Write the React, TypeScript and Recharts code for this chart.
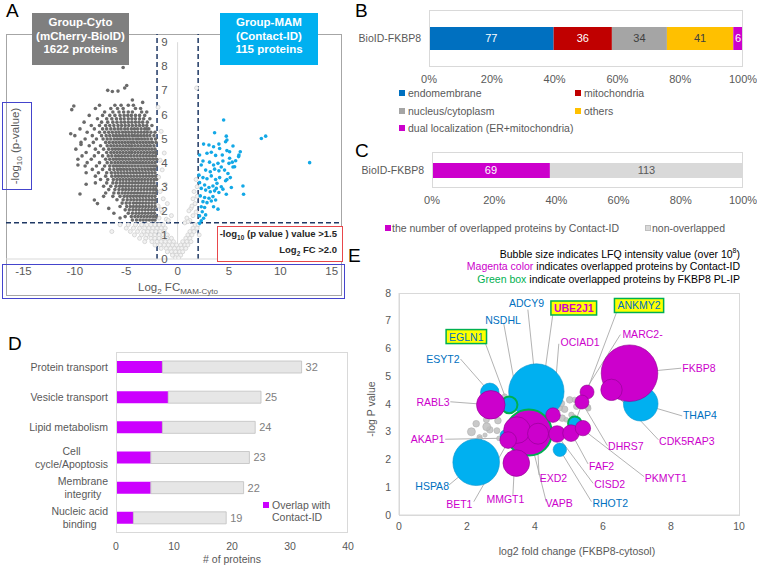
import React from "react";
import {
  ScatterChart,
  Scatter,
  XAxis,
  YAxis,
  ZAxis,
  ReferenceLine,
  ReferenceDot,
  BarChart,
  Bar,
  LabelList,
} from "recharts";

const FONT = "'Liberation Sans', Arial, Helvetica, sans-serif";
const TXT = "#595959";
const MAG = "#CC00CC";
const BLUE_TXT = "#0070C0";

// ---------- A: volcano plot ----------
const xTicksA = [-15, -10, -5, 0, 5, 10, 15];
const yTicksA = [0, 1, 2, 3, 4, 5, 6, 7, 8, 9];

// Group-Cyto cloud, read row by row (y, x values)
const cytoRows: [number, number[]][] = [
  [6.38, [-7.6, -6.1, -5.5, -4.8, -4.3]],
  [6.25, [-8.0, -6.5, -5.85, -5.3, -4.1, -3.6]],
  [6.1, [-7.1, -6.3, -5.7, -5.25, -4.8, -4.4, -3.5, -3.0]],
  [5.96, [-8.6, -7.3, -6.6, -6.1, -5.6, -5.2, -4.85, -4.5, -4.1, -3.7, -3.2]],
  [5.82, [-7.8, -6.9, -6.4, -5.95, -5.55, -5.2, -4.8, -4.45, -4.1, -3.7, -3.3, -2.7]],
  [5.68, [-9.1, -7.4, -6.8, -6.3, -5.9, -5.5, -5.15, -4.8, -4.45, -4.1, -3.75, -3.4, -2.95]],
  [5.54, [-8.4, -7.6, -7.0, -6.6, -6.2, -5.8, -5.45, -5.1, -4.75, -4.4, -4.05, -3.7, -3.35, -3.0, -2.5]],
  [5.4, [-9.5, -8.1, -7.3, -6.9, -6.5, -6.15, -5.8, -5.5, -5.15, -4.85, -4.5, -4.2, -3.9, -3.55, -3.2, -2.8]],
  [5.26, [-8.8, -7.6, -7.1, -6.7, -6.35, -6.0, -5.7, -5.35, -5.05, -4.75, -4.45, -4.15, -3.85, -3.55, -3.25, -2.95, -2.6, -2.2]],
  [5.12, [-10.0, -8.3, -7.4, -6.95, -6.6, -6.25, -5.95, -5.65, -5.35, -5.05, -4.75, -4.45, -4.2, -3.9, -3.6, -3.3, -3.0, -2.7, -2.3]],
  [4.98, [-9.0, -7.9, -7.25, -6.85, -6.5, -6.15, -5.85, -5.55, -5.25, -4.95, -4.65, -4.35, -4.05, -3.8, -3.5, -3.2, -2.9, -2.55, -2.15]],
  [4.84, [-9.4, -8.2, -7.0, -6.65, -6.3, -6.0, -5.7, -5.4, -5.1, -4.8, -4.5, -4.25, -3.95, -3.65, -3.35, -3.05, -2.75, -2.45, -2.1]],
  [4.7, [-8.6, -7.5, -6.85, -6.5, -6.2, -5.9, -5.6, -5.3, -5.0, -4.7, -4.45, -4.15, -3.85, -3.55, -3.25, -2.95, -2.65, -2.3]],
  [4.56, [-9.9, -8.0, -7.2, -6.7, -6.35, -6.05, -5.75, -5.45, -5.15, -4.85, -4.55, -4.3, -4.0, -3.7, -3.4, -3.1, -2.8, -2.5, -2.2]],
  [4.42, [-8.9, -7.7, -6.9, -6.5, -6.2, -5.9, -5.6, -5.3, -5.0, -4.7, -4.45, -4.15, -3.85, -3.55, -3.25, -2.95, -2.65, -2.35, -2.1]],
  [4.28, [-9.3, -8.1, -7.3, -6.75, -6.4, -6.05, -5.75, -5.45, -5.15, -4.85, -4.55, -4.25, -3.95, -3.65, -3.35, -3.05, -2.75, -2.45, -2.15]],
  [4.14, [-9.7, -8.4, -7.0, -6.6, -6.25, -5.95, -5.65, -5.35, -5.05, -4.75, -4.45, -4.15, -3.85, -3.55, -3.25, -2.95, -2.65, -2.35, -2.05]],
  [4.0, [-8.8, -7.6, -6.85, -6.45, -6.1, -5.8, -5.5, -5.2, -4.9, -4.6, -4.3, -4.0, -3.7, -3.4, -3.1, -2.8, -2.5, -2.2]],
  [3.86, [-9.0, -7.9, -7.1, -6.6, -6.25, -5.95, -5.65, -5.35, -5.05, -4.75, -4.45, -4.15, -3.85, -3.55, -3.25, -2.95, -2.65, -2.35, -2.1]],
  [3.72, [-8.3, -7.3, -6.6, -6.2, -5.85, -5.55, -5.25, -4.95, -4.65, -4.35, -4.05, -3.75, -3.45, -3.15, -2.85, -2.55, -2.25]],
  [3.58, [-8.9, -7.7, -6.9, -6.45, -6.1, -5.8, -5.5, -5.2, -4.9, -4.6, -4.3, -4.0, -3.7, -3.4, -3.1, -2.8, -2.5, -2.2]],
  [3.44, [-8.0, -7.0, -6.4, -6.05, -5.75, -5.45, -5.15, -4.85, -4.55, -4.25, -3.95, -3.65, -3.35, -3.05, -2.75, -2.45, -2.15]],
  [3.3, [-7.5, -6.8, -6.25, -5.9, -5.6, -5.3, -5.0, -4.7, -4.4, -4.1, -3.8, -3.5, -3.2, -2.9, -2.6, -2.3, -2.05]],
  [3.16, [-8.0, -6.9, -6.3, -5.95, -5.6, -5.3, -5.0, -4.7, -4.4, -4.1, -3.8, -3.5, -3.2, -2.9, -2.6, -2.3]],
  [3.02, [-7.2, -6.5, -6.0, -5.65, -5.35, -5.05, -4.75, -4.45, -4.15, -3.85, -3.55, -3.25, -2.95, -2.65, -2.35, -2.1]],
  [2.88, [-6.7, -6.1, -5.7, -5.35, -5.05, -4.75, -4.45, -4.15, -3.85, -3.55, -3.25, -2.95, -2.65, -2.35, -2.1]],
  [2.74, [-7.0, -6.2, -5.75, -5.4, -5.1, -4.8, -4.5, -4.2, -3.9, -3.6, -3.3, -3.0, -2.7, -2.4, -2.15]],
  [2.6, [-6.3, -5.6, -5.2, -4.9, -4.6, -4.3, -4.0, -3.7, -3.4, -3.1, -2.8, -2.5, -2.2]],
  [2.46, [-5.9, -5.3, -4.9, -4.55, -4.25, -3.95, -3.65, -3.35, -3.05, -2.75, -2.45, -2.15]],
  [2.32, [-5.4, -5.0, -4.65, -4.3, -4.0, -3.7, -3.4, -3.1, -2.8, -2.5, -2.2]],
  [2.18, [-5.6, -4.95, -4.6, -4.3, -4.0, -3.7, -3.4, -3.1, -2.8, -2.5, -2.2]],
  [2.04, [-5.1, -4.7, -4.35, -4.05, -3.75, -3.45, -3.15, -2.85, -2.55, -2.25]],
  [1.9, [-4.8, -4.4, -4.05, -3.75, -3.45, -3.15, -2.85, -2.55, -2.25]],
  [1.76, [-5.1, -4.5, -4.15, -3.85, -3.55, -3.25, -2.95, -2.65, -2.35, -2.1]],
  [1.62, [-4.4, -4.0, -3.65, -3.35, -3.05, -2.75, -2.45, -2.2]],
];
const cytoStray: [number, number][] = [
  [-5.3, 7.95], [-6.8, 7.0], [-6.35, 6.95], [-5.8, 6.97], [-5.15, 7.1], [-4.95, 7.2],
  [-10.1, 6.35], [-10.3, 6.2], [-10.4, 5.2], [-9.5, 2.7], [-8.1, 2.45], [-9.7, 3.9],
  [-9.4, 4.75], [-8.9, 3.1], [-7.8, 2.3], [-6.7, 2.1], [-6.2, 1.9], [-3.4, 6.5],
  [-4.4, 6.6], [-3.0, 5.4], [-5.6, 1.7], [-7.2, 2.6],
];

// non-significant proteins
const nsRows: [number, number[]][] = [
  [1.42, [-5.6, -4.8, -4.1, -3.5, -3.0, -2.6, -2.2, -1.8, -1.4, 1.7, 2.0]],
  [1.28, [-5.0, -4.3, -3.7, -3.2, -2.8, -2.4, -2.0, -1.6, -1.2, 1.5, 1.9]],
  [1.14, [-6.4, -4.6, -3.9, -3.3, -2.9, -2.5, -2.1, -1.7, -1.3, 1.2, 1.6]],
  [1.0, [-4.2, -3.5, -3.0, -2.6, -2.2, -1.8, -1.4, -1.0, 1.0, 1.4, 2.1]],
  [0.86, [-3.7, -3.1, -2.6, -2.2, -1.8, -1.4, -1.0, -0.6, 0.8, 1.2]],
  [0.72, [-3.2, -2.5, -2.0, -1.6, -1.2, -0.8, -0.4, 0.5, 0.9, 1.3]],
  [0.58, [-2.2, -1.7, -1.3, -0.9, -0.5, -0.1, 0.3, 0.7, 1.0]],
  [0.44, [-1.6, -1.1, -0.7, -0.3, 0.1, 0.4, 0.8]],
  [0.3, [-1.0, -0.6, -0.2, 0.2, 0.5]],
  [0.16, [-0.5, -0.1, 0.3]],
  [0.05, [-0.2, 0.1]],
];
const nsStray: [number, number][] = [
  [-1.8, 1.7], [-1.5, 1.95], [-1.9, 2.2], [-1.4, 2.5], [-1.7, 2.8], [-1.2, 3.1],
  [-1.85, 3.4], [-1.5, 3.7], [-1.7, 4.1], [-1.3, 4.4], [-1.6, 2.05], [-1.1, 1.65],
  [-1.6, 5.3], [-1.9, 6.3], [1.2, 1.6], [1.5, 1.8], [1.8, 1.95], [1.3, 2.1],
  [1.7, 2.3], [1.5, 2.5], [1.9, 2.6], [1.6, 2.8], [1.9, 3.0], [1.8, 3.3],
  [1.4, 2.2], [1.0, 1.55], [0.7, 1.5], [1.85, 7.1], [1.1, 2.0], [0.9, 1.7],
  [-0.9, 1.6], [-1.0, 2.3], [-0.6, 1.8],
];

// Group-MAM proteins
const mamPoints: [number, number][] = [
  [4.48, 5.77], [3.6, 5.24], [4.74, 5.1], [4.8, 4.94], [4.67, 4.87], [8.15, 5.0], [8.57, 5.1], [12.85, 4.0],
  [2.53, 4.77], [3.05, 4.73], [3.5, 4.66], [4.02, 4.77], [4.09, 4.59], [5.39, 4.69], [6.1, 4.45],
  [2.14, 4.32], [2.86, 4.39], [3.28, 4.43], [3.7, 4.3], [4.35, 4.32], [4.8, 4.5], [5.06, 4.18], [5.65, 4.08], [5.97, 4.32],
  [2.47, 4.07], [3.11, 4.02], [3.5, 3.9], [3.93, 3.97], [4.41, 4.07], [5.0, 3.97], [5.32, 4.02],
  [2.3, 3.9], [2.73, 3.69], [3.18, 3.62], [3.6, 3.73], [4.02, 3.66], [4.25, 3.82], [4.57, 3.69], [4.9, 3.55], [5.39, 3.82],
  [2.08, 3.48], [2.47, 3.38], [2.86, 3.33], [3.28, 3.45], [3.7, 3.3], [4.09, 3.38], [4.67, 3.25], [5.13, 3.38],
  [2.14, 3.17], [2.63, 3.07], [3.05, 2.97], [3.44, 3.03], [3.83, 3.14], [4.25, 3.0], [4.8, 3.3], [5.23, 2.97], [6.36, 3.03],
  [2.3, 2.93], [2.73, 2.86], [3.18, 2.79], [3.6, 2.83], [4.02, 2.76], [4.41, 2.9], [4.74, 2.69], [6.42, 2.69],
  [2.21, 2.62], [2.63, 2.55], [3.05, 2.52], [3.44, 2.59], [3.7, 2.45],
  [2.47, 2.38], [2.86, 2.34], [3.28, 2.41],
  [2.3, 2.17], [2.63, 2.14], [3.5, 2.17], [3.93, 2.07],
  [2.4, 1.96], [2.14, 1.79], [2.73, 1.83], [2.53, 1.69], [2.3, 1.59], [2.14, 1.48],
  [5.55, 3.83], [5.06, 4.45], [5.94, 4.25], [3.77, 2.93],
];

// ---------- B / C: localisation bars ----------
const bLabels = ["endomembrane", "mitochondria", "nucleus/cytoplasm", "others", "dual localization (ER+mitochondria)"];
const bCounts = [77, 36, 34, 41, 6];
const bColors = ["#0070C0", "#C00000", "#A5A5A5", "#FFC000", "#CC00CC"];
const bTextColors = ["#ffffff", "#ffffff", "#404040", "#404040", "#ffffff"];

const cLabels = ["the number of overlapped proteins by Contact-ID", "non-overlapped"];
const cCounts = [69, 113];
const cColors = ["#CC00CC", "#D9D9D9"];
const cTextColors = ["#ffffff", "#595959"];

const pctTicks = [0, 0.2, 0.4, 0.6, 0.8, 1];

// ---------- D: functional categories ----------
const dCategories = ["Protein transport", "Vesicle transport", "Lipid metabolism", "Cell\ncycle/Apoptosis", "Membrane\nintegrity", "Nucleic acid\nbinding"];
const dTotals = [32, 25, 24, 23, 22, 19];
const dOverlap = [8, 9, 8, 6, 6, 3];
const dTicks = [0, 10, 20, 30, 40];

// ---------- E: bubble plot ----------
const eTicksX = [0, 2, 4, 6, 8, 10];
const eTicksY = [0, 1, 2, 3, 4, 5, 6, 7, 8];
// z = LFQ intensity (arbitrary units, area-proportional)
const greyBubbles = [
  { x: 2.27, y: 3.29, z: 1.1 }, { x: 2.13, y: 3.0, z: 1.6 }, { x: 2.57, y: 3.43, z: 0.9 }, { x: 2.67, y: 3.07, z: 1.1 },
  { x: 2.37, y: 2.8, z: 0.73 }, { x: 2.88, y: 3.04, z: 0.9 }, { x: 2.91, y: 3.4, z: 1.1 }, { x: 2.76, y: 3.67, z: 0.6 },
  { x: 3.11, y: 4.27, z: 0.7 }, { x: 2.58, y: 3.18, z: 1.6 }, { x: 2.38, y: 2.76, z: 0.4 }, { x: 2.94, y: 2.76, z: 0.55 },
  { x: 2.53, y: 2.88, z: 0.45 }, { x: 2.37, y: 2.49, z: 0.4 }, { x: 2.32, y: 2.29, z: 0.3 },
  { x: 5.02, y: 4.15, z: 1.1 }, { x: 4.87, y: 3.81, z: 1.1 }, { x: 5.22, y: 3.91, z: 0.9 }, { x: 5.56, y: 3.89, z: 0.73 },
  { x: 4.8, y: 3.49, z: 1.1 }, { x: 5.07, y: 3.61, z: 0.73 }, { x: 4.73, y: 3.85, z: 0.73 }, { x: 4.92, y: 3.43, z: 0.55 },
  { x: 4.77, y: 3.07, z: 0.55 }, { x: 5.31, y: 4.15, z: 0.73 }, { x: 5.17, y: 4.15, z: 0.73 }, { x: 4.78, y: 4.02, z: 1.0 },
  { x: 5.47, y: 4.08, z: 1.0 }, { x: 5.57, y: 3.84, z: 0.7 }, { x: 4.64, y: 3.48, z: 0.5 }, { x: 5.15, y: 3.54, z: 0.5 },
];
const blueBubbles = [
  { x: 2.27, y: 1.9, z: 54.3, plip: 0 },
  { x: 4.04, y: 4.45, z: 76.7, plip: 0 },
  { x: 7.11, y: 4.01, z: 29.9, plip: 0 },
  { x: 2.67, y: 4.42, z: 8.6, plip: 0 },
  { x: 3.24, y: 3.97, z: 6.9, plip: 1 },
  { x: 4.73, y: 2.35, z: 4.5, plip: 0 },
  { x: 5.17, y: 3.31, z: 4.5, plip: 1 },
  { x: 3.12, y: 2.88, z: 2.5, plip: 0 },
];
const magentaBubbles = [
  { x: 6.78, y: 5.11, z: 80.0, plip: 0 },
  { x: 6.25, y: 4.51, z: 11.4, plip: 0 },
  { x: 2.7, y: 3.97, z: 20.4, plip: 0 },
  { x: 3.82, y: 2.97, z: 52.9, plip: 1 },
  { x: 3.47, y: 3.06, z: 17.7, plip: 0 },
  { x: 4.09, y: 2.93, z: 11.0, plip: 0 },
  { x: 3.21, y: 2.7, z: 6.9, plip: 0 },
  { x: 3.45, y: 1.87, z: 17.7, plip: 0 },
  { x: 4.53, y: 3.6, z: 5.3, plip: 0 },
  { x: 4.65, y: 2.92, z: 6.9, plip: 0 },
  { x: 5.06, y: 2.95, z: 6.9, plip: 0 },
  { x: 5.41, y: 3.13, z: 5.9, plip: 0 },
  { x: 5.53, y: 4.43, z: 4.9, plip: 0 },
  { x: 5.38, y: 4.07, z: 4.9, plip: 0 },
];

// label layout for panel E (text position, anchor, leader line from -> to)
type Ann = { t: string; c: string; x: number; y: number; a: "start" | "middle" | "end"; l: [number, number, number, number]; box?: boolean; bold?: boolean };
const eLabels: Ann[] = [
  { t: "ADCY9", c: BLUE_TXT, x: 3.75, y: 7.64, a: "middle", l: [3.79, 7.4, 4.04, 4.45] },
  { t: "UBE2J1", c: MAG, x: 5.14, y: 7.46, a: "middle", l: [4.53, 7.28, 4.04, 2.95], box: true, bold: true },
  { t: "ANKMY2", c: BLUE_TXT, x: 7.06, y: 7.55, a: "middle", l: [6.41, 7.34, 5.17, 3.31], box: true },
  { t: "NSDHL", c: BLUE_TXT, x: 3.06, y: 7.04, a: "middle", l: [3.08, 6.9, 3.65, 3.05] },
  { t: "EGLN1", c: BLUE_TXT, x: 1.98, y: 6.43, a: "middle", l: [2.5, 6.32, 3.21, 3.97], box: true },
  { t: "MARC2-", c: MAG, x: 6.57, y: 6.52, a: "start", l: [6.51, 6.5, 5.46, 4.45] },
  { t: "OCIAD1", c: MAG, x: 4.75, y: 6.22, a: "start", l: [4.7, 6.17, 4.53, 3.61] },
  { t: "ESYT2", c: BLUE_TXT, x: 1.78, y: 5.62, a: "end", l: [1.81, 5.62, 2.67, 4.42] },
  { t: "FKBP8", c: MAG, x: 8.33, y: 5.29, a: "start", l: [8.3, 5.29, 6.78, 5.11] },
  { t: "RABL3", c: MAG, x: 1.49, y: 4.07, a: "end", l: [1.51, 4.08, 2.7, 3.97] },
  { t: "THAP4", c: BLUE_TXT, x: 8.35, y: 3.59, a: "start", l: [8.33, 3.57, 7.11, 4.01] },
  { t: "AKAP1", c: MAG, x: 1.34, y: 2.73, a: "end", l: [1.36, 2.73, 3.23, 2.77] },
  { t: "DHRS7", c: MAG, x: 6.15, y: 2.47, a: "start", l: [6.13, 2.5, 5.36, 4.09] },
  { t: "CDK5RAP3", c: MAG, x: 7.65, y: 2.68, a: "start", l: [7.63, 2.71, 6.25, 4.51] },
  { t: "FAF2", c: MAG, x: 5.59, y: 1.77, a: "start", l: [5.56, 1.84, 5.07, 2.95] },
  { t: "PKMYT1", c: MAG, x: 7.23, y: 1.35, a: "start", l: [7.21, 1.38, 5.36, 3.13] },
  { t: "EXD2", c: MAG, x: 4.14, y: 1.32, a: "start", l: [4.12, 1.44, 4.06, 2.89] },
  { t: "CISD2", c: MAG, x: 5.74, y: 1.12, a: "start", l: [5.71, 1.14, 4.63, 2.91] },
  { t: "HSPA8", c: BLUE_TXT, x: 1.47, y: 1.06, a: "end", l: [1.47, 1.08, 2.27, 1.9] },
  { t: "MMGT1", c: MAG, x: 3.13, y: 0.57, a: "middle", l: [3.35, 0.72, 3.45, 3.07] },
  { t: "BET1", c: MAG, x: 2.16, y: 0.4, a: "end", l: [2.2, 0.48, 3.23, 2.68] },
  { t: "VAPB", c: MAG, x: 4.31, y: 0.42, a: "start", l: [4.33, 0.48, 3.82, 2.97] },
  { t: "RHOT2", c: BLUE_TXT, x: 5.69, y: 0.42, a: "start", l: [5.66, 0.48, 4.73, 2.35] },
];

// ---------- helpers ----------
let measureCtx: CanvasRenderingContext2D | null = null;
const textWidth = (s: string, font: string) => {
  if (!measureCtx && typeof document !== "undefined") measureCtx = document.createElement("canvas").getContext("2d");
  if (!measureCtx) return s.length * 6;
  measureCtx.font = font;
  return measureCtx.measureText(s).width;
};

const toPts = (rows: [number, number[]][], stray: [number, number][]) => [
  ...rows.flatMap(([y, xs]) => xs.map((x) => ({ x, y }))),
  ...stray.map(([x, y]) => ({ x, y })),
];

type TP = { x: number; y: number; a?: "l" | "c" | "r"; size?: number; color?: string; bold?: boolean; rot?: boolean; children: React.ReactNode };
const T = ({ x, y, a = "l", size = 10.5, color = TXT, bold, rot, children }: TP) => {
  const tx = a === "l" ? "0" : a === "c" ? "-50%" : "-100%";
  return (
    <div
      style={{
        position: "absolute",
        left: x,
        top: y,
        transform: `translate(${tx}, -50%)${rot ? " rotate(-90deg)" : ""}`,
        fontSize: size,
        color,
        fontWeight: bold ? 700 : 400,
        whiteSpace: "nowrap",
        lineHeight: 1,
      }}
    >
      {children}
    </div>
  );
};

const Sq = ({ x, y, c, border }: { x: number; y: number; c: string; border?: string }) => (
  <div style={{ position: "absolute", left: x, top: y, width: 6, height: 6, background: c, boxSizing: "border-box", border: border ? `1px solid ${border}` : "none" }} />
);

const Box = ({ x, y, w, h, c, wd = 1 }: { x: number; y: number; w: number; h: number; c: string; wd?: number }) => (
  <div style={{ position: "absolute", left: x, top: y, width: w, height: h, border: `${wd}px solid ${c}`, boxSizing: "border-box", pointerEvents: "none" }} />
);

const Letter = ({ x, y, s }: { x: number; y: number; s: string }) => (
  <div style={{ position: "absolute", left: x, top: y, fontSize: 19, lineHeight: "19px", color: "#000" }}>{s}</div>
);

const darkDot = (p: any) => <circle cx={p.cx} cy={p.cy} r={1.8} fill="#6A6A6A" />;
const lightDot = (p: any) => <circle cx={p.cx} cy={p.cy} r={2} fill="#F2F2F2" stroke="#D0D0D0" strokeWidth={0.8} />;
const blueDot = (p: any) => <circle cx={p.cx} cy={p.cy} r={1.8} fill="#13A8E6" />;

const bubble = (fill: string, stroke: string, opacity = 1) => (p: any) => {
  const r = p.size ? Math.sqrt(p.size / Math.PI) : (p.width || 4) / 2;
  const ring = p.payload && p.payload.plip;
  return (
    <circle
      cx={p.cx}
      cy={p.cy}
      r={r}
      fill={fill}
      fillOpacity={opacity}
      stroke={ring ? "#00B050" : stroke}
      strokeWidth={ring ? 2 : 0.6}
    />
  );
};

const AnnLabel = ({ cx, cy, a }: { cx: number; cy: number; a: Ann }) => {
  const font = `${a.bold ? "bold " : ""}10.5px ${FONT}`;
  const w = textWidth(a.t, font);
  const left = a.a === "start" ? cx : a.a === "middle" ? cx - w / 2 : cx - w;
  return (
    <g>
      {a.box && <rect x={left - 3} y={cy - 7} width={w + 6} height={14} fill="#FFFF00" stroke="#00B050" strokeWidth={1.5} />}
      <text x={cx} y={cy} textAnchor={a.a} dominantBaseline="central" fontSize={10.5} fontWeight={a.bold ? 700 : 400} fill={a.c}>
        {a.t}
      </text>
    </g>
  );
};

const DTick = (p: any) => {
  const lines = String(p.payload.value).split("\n");
  const font = `10.5px ${FONT}`;
  const w = Math.max(...lines.map((l) => textWidth(l, font)));
  const cx = p.x - w / 2;
  const lh = 12.5;
  return (
    <text x={cx} y={p.y} textAnchor="middle" fontSize={10.5} fill={TXT}>
      {lines.map((l, i) => (
        <tspan key={i} x={cx} y={p.y + (i - (lines.length - 1) / 2) * lh} dy="0.35em">
          {l}
        </tspan>
      ))}
    </text>
  );
};

const pct = (v: number) => `${Math.round(v * 100)}%`;

export default function App() {
  const cytoData = toPts(cytoRows, cytoStray);
  const nsData = toPts(nsRows, nsStray);
  const mamData = mamPoints.map(([x, y]) => ({ x, y }));

  const bRow: Record<string, any> = { name: "BioID-FKBP8" };
  bCounts.forEach((v, i) => (bRow[`k${i}`] = v));
  const cRow: Record<string, any> = { name: "BioID-FKBP8" };
  cCounts.forEach((v, i) => (cRow[`k${i}`] = v));
  const dRows = dCategories.map((name, i) => ({ name, overlap: dOverlap[i], rest: dTotals[i] - dOverlap[i], total: dTotals[i] }));

  const axisTick = { fill: TXT, fontSize: 10.5 };

  return (
    <div style={{ position: "absolute", left: 0, top: 0, width: 757, height: 566, background: "#fff", fontFamily: FONT, overflow: "hidden" }}>
      {/* ================= A ================= */}
      <Box x={6} y={34} w={336} h={262} c="#A6A6A6" />
      <div style={{ position: "absolute", left: 6, top: 34 }}>
        <ScatterChart width={336} height={262} margin={{ top: 0, right: 0, bottom: 0, left: 0 }}>
          <XAxis
            type="number"
            dataKey="x"
            domain={[-16.7, 16]}
            ticks={xTicksA}
            interval={0}
            allowDataOverflow
            height={37}
            axisLine={{ stroke: "#D9D9D9" }}
            tickLine={false}
            tick={{ fill: TXT, fontSize: 11.5 }}
          />
          <YAxis type="number" dataKey="y" domain={[0, 9.34]} allowDataOverflow hide />
          <ReferenceLine segment={[{ x: 0, y: 0 }, { x: 0, y: 9 }]} stroke="#D9D9D9" />
          <Scatter data={nsData} shape={lightDot} isAnimationActive={false} />
          <Scatter data={cytoData} shape={darkDot} isAnimationActive={false} />
          <Scatter data={mamData} shape={blueDot} isAnimationActive={false} />
          <ReferenceLine x={-2} stroke="#1F3864" strokeWidth={1.5} strokeDasharray="5 3" />
          <ReferenceLine x={2} stroke="#1F3864" strokeWidth={1.5} strokeDasharray="5 3" />
          <ReferenceLine y={1.5} stroke="#1F3864" strokeWidth={1.5} strokeDasharray="5 3" />
          {yTicksA.map((v) => (
            <ReferenceDot
              key={v}
              x={0}
              y={v}
              r={0}
              fill="none"
              stroke="none"
              ifOverflow="visible"
              label={{ value: String(v), position: "left", offset: 10, fill: TXT, fontSize: 11.5 }}
            />
          ))}
        </ScatterChart>
      </div>
      <div style={{ position: "absolute", left: 32, top: 13, width: 97, height: 52, background: "#7F7F7F", color: "#fff", fontWeight: 700, fontSize: 11.5, lineHeight: "13.5px", textAlign: "center", paddingTop: 3, boxSizing: "border-box" }}>
        Group-Cyto<br />(mCherry-BioID)<br />1622 proteins
      </div>
      <div style={{ position: "absolute", left: 220, top: 13, width: 98, height: 52, background: "#00B0F0", color: "#fff", fontWeight: 700, fontSize: 11.5, lineHeight: "13.5px", textAlign: "center", paddingTop: 3, boxSizing: "border-box" }}>
        Group-MAM<br />(Contact-ID)<br />115 proteins
      </div>
      <div style={{ position: "absolute", left: 217, top: 226, width: 126, height: 36, border: "1.5px solid #E8474B", background: "#fff", boxSizing: "border-box", textAlign: "right", paddingRight: 5, paddingTop: 1, fontWeight: 700, fontSize: 9.5, lineHeight: "12.5px", color: "#262626" }}>
        -log<sub style={{ fontSize: 6.5 }}>10</sub> (p value ) value &gt;1.5<br />
        Log<sub style={{ fontSize: 6.5 }}>2</sub> FC &gt;2.0
      </div>
      <Box x={2} y={102} w={30} h={88} c="#4444CC" />
      <Box x={2} y={264} w={343} h={35} c="#4444CC" />
      <T x={17} y={146} a="c" size={11.5} rot>
        -log<sub style={{ fontSize: 8 }}>10</sub> (p-value)
      </T>
      <T x={178} y={289} a="c" size={11.5}>
        Log<sub style={{ fontSize: 8 }}>2</sub> FC<sub style={{ fontSize: 8 }}>MAM-Cyto</sub>
      </T>
      <Letter x={6} y={1} s="A" />

      {/* ================= B ================= */}
      <Letter x={355} y={1} s="B" />
      <div style={{ position: "absolute", left: 340, top: 0 }}>
        <BarChart width={417} height={90} layout="vertical" data={[bRow]} stackOffset="expand" margin={{ top: 10, right: 14, bottom: 0, left: 0 }}>
          <XAxis type="number" domain={[0, 1]} ticks={pctTicks} interval={0} tickFormatter={pct} height={23} axisLine={false} tickLine={false} tick={{ fill: TXT, fontSize: 11 }} />
          <YAxis type="category" dataKey="name" width={89} axisLine={false} tickLine={false} tick={axisTick} />
          {bCounts.map((_, i) => (
            <Bar key={i} dataKey={`k${i}`} stackId="b" fill={bColors[i]} barSize={23} isAnimationActive={false}>
              <LabelList dataKey={`k${i}`} position="center" fill={bTextColors[i]} fontSize={11} />
            </Bar>
          ))}
        </BarChart>
      </div>
      <Box x={429} y={10} w={314} h={57} c="#D9D9D9" />
      {bLabels.map((l, i) => {
        const x = i % 2 === 0 ? 399 : 575;
        const y = 93 + Math.floor(i / 2) * 17.5;
        return (
          <React.Fragment key={l}>
            <Sq x={x} y={y - 3} c={bColors[i]} />
            <T x={x + 9} y={y}>{l}</T>
          </React.Fragment>
        );
      })}

      {/* ================= C ================= */}
      <Letter x={355} y={141} s="C" />
      <div style={{ position: "absolute", left: 340, top: 145 }}>
        <BarChart width={417} height={67} layout="vertical" data={[cRow]} stackOffset="expand" margin={{ top: 7, right: 14, bottom: 0, left: 0 }}>
          <XAxis type="number" domain={[0, 1]} ticks={pctTicks} interval={0} tickFormatter={pct} height={24} axisLine={false} tickLine={false} tick={{ fill: TXT, fontSize: 11 }} />
          <YAxis type="category" dataKey="name" width={92} axisLine={false} tickLine={false} tick={axisTick} />
          {cCounts.map((_, i) => (
            <Bar key={i} dataKey={`k${i}`} stackId="c" fill={cColors[i]} barSize={15} isAnimationActive={false}>
              <LabelList dataKey={`k${i}`} position="center" fill={cTextColors[i]} fontSize={11} />
            </Bar>
          ))}
        </BarChart>
      </div>
      <Box x={432} y={152} w={311} h={36} c="#D9D9D9" />
      <Sq x={385} y={225} c={cColors[0]} />
      <T x={392} y={228}>{cLabels[0]}</T>
      <Sq x={645} y={225} c={cColors[1]} border="#BFBFBF" />
      <T x={652} y={228}>{cLabels[1]}</T>

      {/* ================= D ================= */}
      <Letter x={8} y={334} s="D" />
      <div style={{ position: "absolute", left: 0, top: 340 }}>
        <BarChart width={360} height={226} layout="vertical" data={dRows} margin={{ top: 12, right: 12, bottom: 0, left: 0 }}>
          <XAxis type="number" domain={[0, 40]} ticks={dTicks} interval={0} height={33} axisLine={false} tickLine={false} tick={axisTick} tickMargin={4} />
          <YAxis type="category" dataKey="name" width={116} axisLine={false} tickLine={false} tick={DTick} interval={0} />
          <Bar dataKey="overlap" stackId="d" fill="#CC00FF" barSize={12} isAnimationActive={false} />
          <Bar dataKey="rest" stackId="d" fill="#E6E6E6" stroke="#BFBFBF" strokeWidth={0.8} barSize={12} isAnimationActive={false}>
            <LabelList dataKey="total" position="right" offset={4} fill="#808080" fontSize={11} />
          </Bar>
        </BarChart>
      </div>
      <Box x={116} y={352} w={232} h={181} c="#D9D9D9" />
      <Sq x={263} y={502} c="#CC00FF" />
      <T x={272} y={505}>Overlap with</T>
      <T x={272} y={517}>Contact-ID</T>
      <T x={232} y={559} a="c">
        # of proteins
      </T>

      {/* ================= E ================= */}
      <Letter x={348} y={246} s="E" />
      <T x={740} y={253} a="r" color="#000">
        Bubble size indicates LFQ intensity value (over 10<sup style={{ fontSize: 7 }}>8</sup>)
      </T>
      <T x={740} y={266} a="r" color="#000">
        <span style={{ color: MAG }}>Magenta color</span> indicates overlapped proteins by Contact-ID
      </T>
      <T x={740} y={279} a="r" color="#000">
        <span style={{ color: "#00B050" }}>Green box</span> indicate overlapped proteins by FKBP8 PL-IP
      </T>
      <Box x={399} y={293} w={341} h={223} c="#D9D9D9" />
      <div style={{ position: "absolute", left: 350, top: 285 }}>
        <ScatterChart width={407} height={281} margin={{ top: 8, right: 18, bottom: 0, left: 0 }}>
          <XAxis type="number" dataKey="x" domain={[0, 10]} ticks={eTicksX} interval={0} height={51} axisLine={{ stroke: "#D9D9D9" }} tickLine={false} tick={axisTick} />
          <YAxis type="number" dataKey="y" domain={[0, 8]} ticks={eTicksY} interval={0} width={49} axisLine={{ stroke: "#D9D9D9" }} tickLine={false} tick={axisTick} />
          <ZAxis type="number" dataKey="z" domain={[0, 100]} range={[0, 1000 * Math.PI]} />
          <Scatter data={greyBubbles} shape={bubble("#BFBFBF", "#B0B0B0", 0.85)} isAnimationActive={false} />
          <Scatter data={blueBubbles} shape={bubble("#00B0F0", "#0C96CF")} isAnimationActive={false} />
          <Scatter data={magentaBubbles} shape={bubble("#CC00CC", "#8E008E")} isAnimationActive={false} />
          {eLabels.map((a) => (
            <ReferenceLine
              key={`l-${a.t}`}
              segment={[{ x: a.l[0], y: a.l[1] }, { x: a.l[2], y: a.l[3] }]}
              stroke="#A0A0A0"
              strokeWidth={0.8}
              ifOverflow="visible"
            />
          ))}
          {eLabels.map((a) => (
            <ReferenceDot key={`t-${a.t}`} x={a.x} y={a.y} r={0} ifOverflow="visible" shape={(p: any) => <AnnLabel cx={p.cx} cy={p.cy} a={a} />} />
          ))}
        </ScatterChart>
      </div>
      <T x={371} y={409} a="c" rot>
        -log P value
      </T>
      <T x={577} y={551} a="c">
        log2 fold change (FKBP8-cytosol)
      </T>
    </div>
  );
}
